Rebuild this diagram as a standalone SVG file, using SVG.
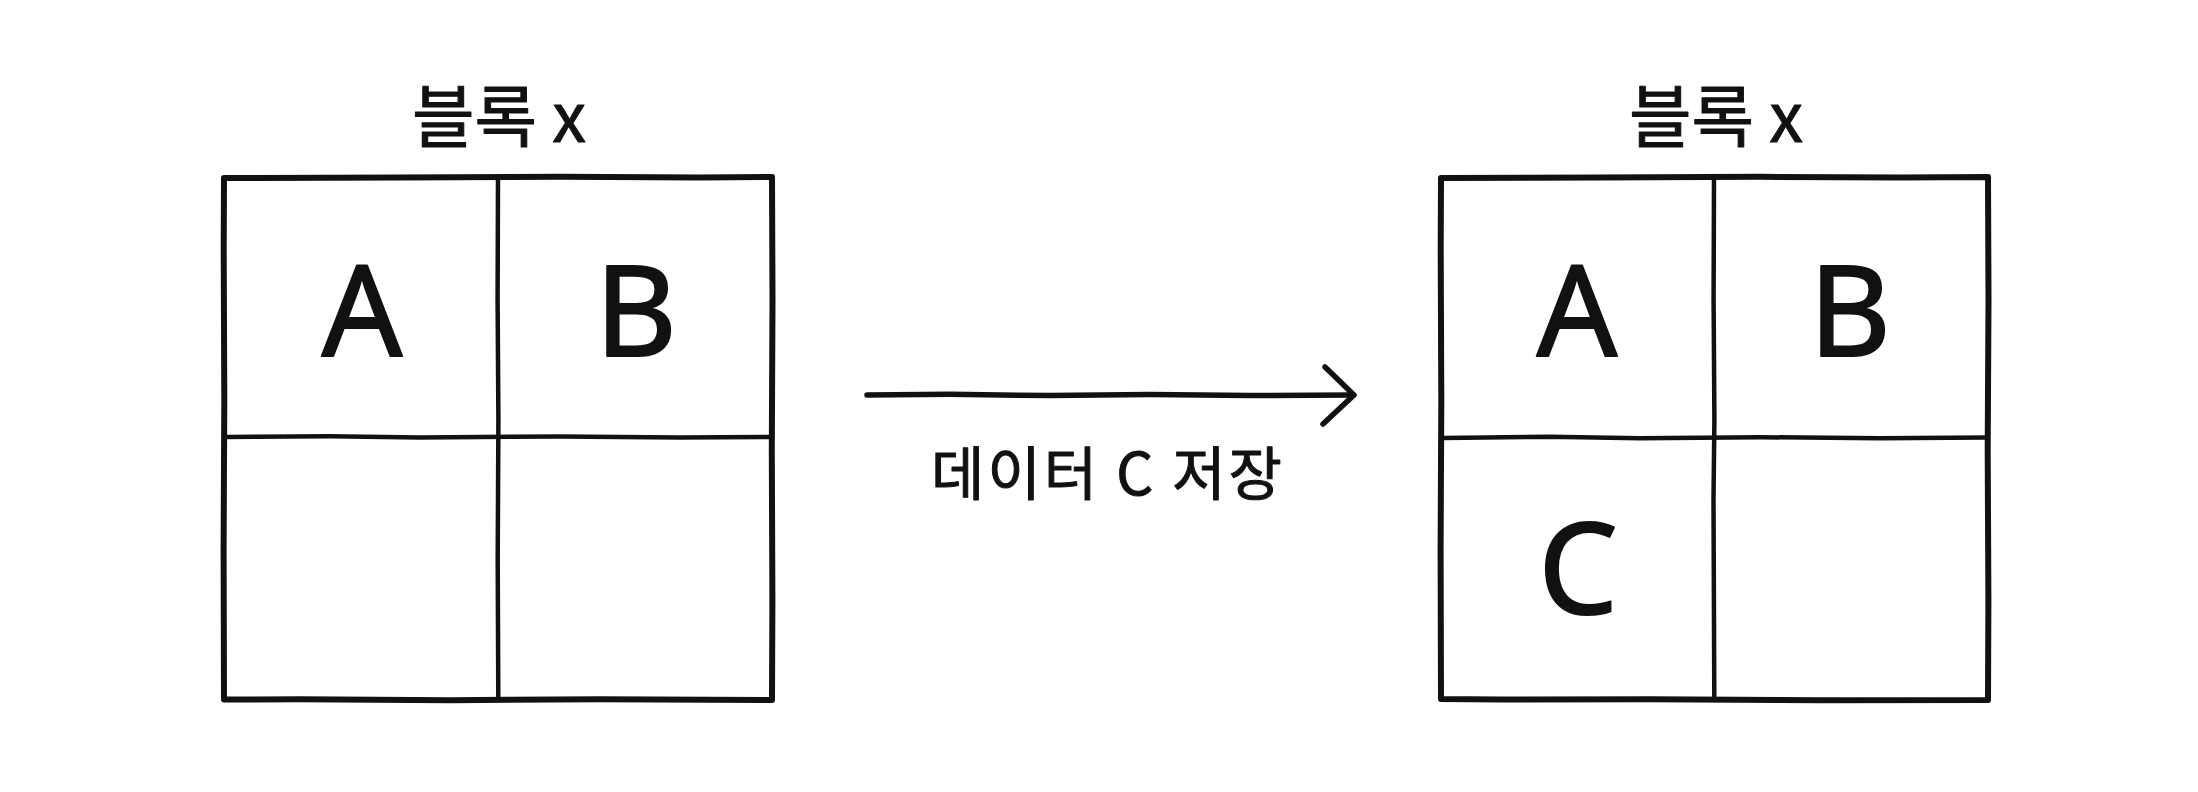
<svg xmlns="http://www.w3.org/2000/svg" width="2198" height="792" viewBox="0 0 2198 792">
<style>
.bg{fill:#ffffff}
.edge{fill:none;stroke:#111;stroke-width:6;stroke-linecap:round;stroke-linejoin:round}
.inner{fill:none;stroke:#111;stroke-width:4.5;stroke-linecap:round}
.title{font-family:"Noto Sans CJK KR","Noto Sans",sans-serif;font-size:68px;font-weight:400;fill:#111;stroke:#111;stroke-width:1;stroke-linejoin:round;text-anchor:middle}
.cell{font-family:"Noto Sans","Noto Sans CJK KR",sans-serif;font-size:126px;font-weight:400;fill:#111;stroke:#111;stroke-width:2;stroke-linejoin:round;text-anchor:middle}
.lbl{font-family:"Noto Sans CJK KR","Noto Sans",sans-serif;font-size:58px;font-weight:400;fill:#111;stroke:#111;stroke-width:1;stroke-linejoin:round;text-anchor:middle;letter-spacing:3px}
.arrow{fill:none;stroke:#111;stroke-width:5.5;stroke-linecap:round;stroke-linejoin:round}
</style>
<rect class="bg" x="0" y="0" width="2198" height="792"/>

<g id="block-left">
  <text class="title" x="499" y="142">블록 x</text>
  <path class="edge" d="M224,178 L400,177.5 L560,176.8 L700,177.5 L772,177 L772.5,300 L771.8,450 L772.4,600 L772,700 L600,699.3 L450,700.2 L300,699.3 L224,699.5 L223.6,550 L224.3,400 L223.7,250 Z"/>
  <path class="inner" d="M498,179 L497.6,300 L498.4,420 L497.7,560 L498.3,698"/>
  <path class="inner" d="M226,437 L330,436.2 L420,437.4 L560,436.4 L680,437.4 L770,437"/>
  <text class="cell" x="362" y="356">A</text>
  <text class="cell" x="636" y="356">B</text>
</g>

<g id="block-right">
  <text class="title" x="1716" y="142">블록 x</text>
  <path class="edge" d="M1441,178 L1600,177.5 L1760,176.8 L1900,177.5 L1988,177 L1988.5,300 L1987.7,450 L1988.4,600 L1988,700 L1820,700.3 L1650,699.3 L1500,699.6 L1441,699 L1440.6,550 L1441.3,400 L1440.7,250 Z"/>
  <path class="inner" d="M1714,179 L1713.6,300 L1714.4,420 L1713.5,500 L1714.3,698"/>
  <path class="inner" d="M1443,438 L1550,436.8 L1640,438.3 L1760,437.2 L1880,438.3 L1986,437.5"/>
  <text class="cell" x="1577" y="356">A</text>
  <text class="cell" x="1850" y="356">B</text>
  <text class="cell" x="1578" y="614">C</text>
</g>

<g id="connectors">
  <path class="arrow" d="M867,395 L950,394.3 L1050,395.6 L1150,394.6 L1250,395.6 L1353,395"/>
  <path class="arrow" d="M1325,367 L1354,395 L1323,424"/>
  <text class="lbl" x="1108" y="495">데이터 C 저장</text>
</g>
</svg>
